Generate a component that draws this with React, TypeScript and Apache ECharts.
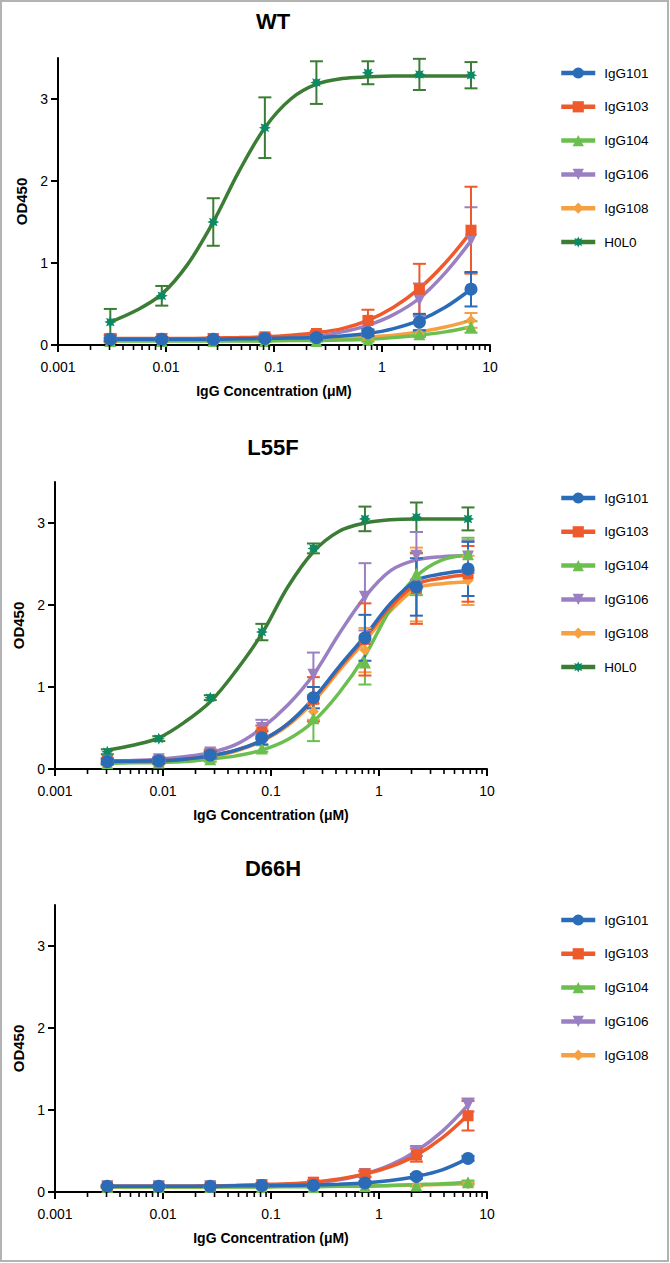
import React, { useEffect, useRef } from "react";
import * as echarts from "echarts";

// ---------- data ----------
const CONC = [0.00305, 0.00914, 0.0274, 0.0823, 0.247, 0.741, 2.22, 6.67];
const FIT_X = [0.00305, 0.00528, 0.00914, 0.0158, 0.0274, 0.0475, 0.0823, 0.143, 0.247, 0.428, 0.741, 1.28, 2.22, 3.85, 6.67];

const PANEL_TITLES = ["WT", "L55F", "D66H"];
const NAMES_ALL = ["IgG101", "IgG103", "IgG104", "IgG106", "IgG108", "H0L0"];
const NAMES_D66H = ["IgG101", "IgG103", "IgG104", "IgG106", "IgG108"];

const X_MAJOR = [0.001, 0.01, 0.1, 1, 10];
const X_LABELS = ["0.001", "0.01", "0.1", "1", "10"];
const X_MINOR = [
  0.002, 0.003, 0.004, 0.005, 0.006, 0.007, 0.008, 0.009,
  0.02, 0.03, 0.04, 0.05, 0.06, 0.07, 0.08, 0.09,
  0.2, 0.3, 0.4, 0.5, 0.6, 0.7, 0.8, 0.9,
  2, 3, 4, 5, 6, 7, 8, 9,
];
const Y_TICKS = [0, 1, 2, 3];
const X_NAME = "IgG Concentration (μM)";
const Y_NAME = "OD450";

// WT
const WT_MEAN: Record<string, number[]> = {
  IgG101: [0.07, 0.07, 0.07, 0.08, 0.09, 0.15, 0.28, 0.68],
  IgG103: [0.08, 0.08, 0.08, 0.1, 0.14, 0.3, 0.68, 1.4],
  IgG104: [0.05, 0.05, 0.05, 0.05, 0.05, 0.06, 0.13, 0.22],
  IgG106: [0.07, 0.07, 0.07, 0.08, 0.1, 0.23, 0.55, 1.28],
  IgG108: [0.06, 0.06, 0.06, 0.07, 0.07, 0.09, 0.14, 0.3],
  H0L0: [0.28, 0.6, 1.5, 2.65, 3.2, 3.32, 3.3, 3.29],
};
const WT_SEM: Record<string, number[]> = {
  IgG101: [0.02, 0.02, 0.02, 0.02, 0.03, 0.04, 0.1, 0.21],
  IgG103: [0.05, 0.02, 0.02, 0.03, 0.03, 0.13, 0.31, 0.53],
  IgG104: [0.01, 0.01, 0.01, 0.01, 0.01, 0.02, 0.03, 0.07],
  IgG106: [0.02, 0.02, 0.02, 0.02, 0.03, 0.05, 0.2, 0.4],
  IgG108: [0.02, 0.02, 0.02, 0.02, 0.02, 0.03, 0.04, 0.09],
  H0L0: [0.16, 0.12, 0.29, 0.37, 0.26, 0.14, 0.19, 0.16],
};
const WT_FIT: Record<string, number[]> = {
  IgG101: [0.07, 0.07, 0.07, 0.07, 0.07, 0.075, 0.08, 0.085, 0.09, 0.11, 0.14, 0.2, 0.3, 0.46, 0.68],
  IgG103: [0.08, 0.08, 0.08, 0.08, 0.085, 0.09, 0.1, 0.12, 0.15, 0.2, 0.3, 0.46, 0.69, 1.0, 1.38],
  IgG104: [0.05, 0.05, 0.05, 0.05, 0.05, 0.05, 0.05, 0.055, 0.055, 0.06, 0.07, 0.09, 0.12, 0.16, 0.22],
  IgG106: [0.07, 0.07, 0.07, 0.07, 0.07, 0.075, 0.08, 0.09, 0.11, 0.16, 0.24, 0.37, 0.57, 0.88, 1.27],
  IgG108: [0.06, 0.06, 0.06, 0.06, 0.06, 0.065, 0.07, 0.07, 0.08, 0.09, 0.1, 0.12, 0.16, 0.22, 0.3],
  H0L0: [0.28, 0.42, 0.62, 0.98, 1.5, 2.12, 2.65, 3.0, 3.18, 3.25, 3.27, 3.28, 3.28, 3.28, 3.28],
};

// L55F
const L55F_MEAN: Record<string, number[]> = {
  IgG101: [0.09, 0.1, 0.17, 0.38, 0.87, 1.6, 2.22, 2.44],
  IgG103: [0.1, 0.1, 0.18, 0.45, 0.85, 1.58, 2.2, 2.38],
  IgG104: [0.07, 0.08, 0.12, 0.25, 0.62, 1.3, 2.38, 2.62],
  IgG106: [0.1, 0.12, 0.2, 0.5, 1.15, 2.1, 2.6, 2.59],
  IgG108: [0.08, 0.09, 0.15, 0.42, 0.7, 1.45, 2.25, 2.3],
  H0L0: [0.21, 0.37, 0.87, 1.67, 2.69, 3.05, 3.07, 3.05],
};
const L55F_SEM: Record<string, number[]> = {
  IgG101: [0.03, 0.03, 0.04, 0.08, 0.13, 0.28, 0.35, 0.33],
  IgG103: [0.03, 0.03, 0.04, 0.08, 0.27, 0.44, 0.43, 0.34],
  IgG104: [0.02, 0.02, 0.03, 0.04, 0.28, 0.27, 0.26, 0.2],
  IgG106: [0.03, 0.03, 0.04, 0.1, 0.27, 0.41, 0.29, 0.2],
  IgG108: [0.02, 0.02, 0.03, 0.06, 0.1, 0.27, 0.45, 0.3],
  H0L0: [0.03, 0.03, 0.03, 0.1, 0.06, 0.15, 0.18, 0.14],
};
const L55F_FIT: Record<string, number[]> = {
  IgG101: [0.09, 0.095, 0.1, 0.12, 0.16, 0.23, 0.35, 0.55, 0.86, 1.25, 1.62, 2.02, 2.3, 2.38, 2.42],
  IgG103: [0.09, 0.095, 0.1, 0.12, 0.16, 0.23, 0.35, 0.55, 0.85, 1.23, 1.6, 1.98, 2.25, 2.33, 2.37],
  IgG104: [0.07, 0.075, 0.08, 0.09, 0.12, 0.16, 0.23, 0.36, 0.58, 0.93, 1.38, 1.95, 2.35, 2.55, 2.61],
  IgG106: [0.1, 0.105, 0.12, 0.15, 0.2, 0.3, 0.5, 0.78, 1.15, 1.65, 2.1, 2.42, 2.55, 2.59, 2.6],
  IgG108: [0.08, 0.085, 0.095, 0.11, 0.15, 0.22, 0.34, 0.53, 0.82, 1.2, 1.56, 1.93, 2.2, 2.26, 2.28],
  H0L0: [0.23, 0.29, 0.38, 0.57, 0.82, 1.2, 1.65, 2.22, 2.65, 2.9, 3.0, 3.04, 3.05, 3.05, 3.05],
};

// D66H
const D66H_MEAN: Record<string, number[]> = {
  IgG101: [0.07, 0.07, 0.07, 0.08, 0.08, 0.11, 0.19, 0.41],
  IgG103: [0.07, 0.07, 0.07, 0.09, 0.12, 0.22, 0.45, 0.93],
  IgG104: [0.06, 0.06, 0.06, 0.06, 0.06, 0.07, 0.08, 0.12],
  IgG106: [0.07, 0.07, 0.07, 0.08, 0.11, 0.22, 0.5, 1.06],
  IgG108: [0.06, 0.06, 0.06, 0.07, 0.07, 0.07, 0.08, 0.1],
};
const D66H_SEM: Record<string, number[]> = {
  IgG101: [0.01, 0.01, 0.01, 0.01, 0.01, 0.02, 0.03, 0.03],
  IgG103: [0.01, 0.01, 0.01, 0.02, 0.02, 0.04, 0.08, 0.18],
  IgG104: [0.01, 0.01, 0.01, 0.01, 0.01, 0.01, 0.01, 0.02],
  IgG106: [0.01, 0.01, 0.01, 0.01, 0.02, 0.03, 0.06, 0.08],
  IgG108: [0.01, 0.01, 0.01, 0.01, 0.01, 0.01, 0.01, 0.02],
};
const D66H_FIT: Record<string, number[]> = {
  IgG101: [0.07, 0.07, 0.07, 0.07, 0.07, 0.075, 0.075, 0.08, 0.085, 0.095, 0.11, 0.14, 0.19, 0.27, 0.41],
  IgG103: [0.07, 0.07, 0.07, 0.07, 0.075, 0.08, 0.09, 0.1, 0.12, 0.16, 0.22, 0.31, 0.45, 0.66, 0.94],
  IgG104: [0.06, 0.06, 0.06, 0.06, 0.06, 0.06, 0.06, 0.065, 0.065, 0.07, 0.07, 0.08, 0.09, 0.1, 0.12],
  IgG106: [0.07, 0.07, 0.07, 0.07, 0.075, 0.08, 0.085, 0.095, 0.11, 0.15, 0.22, 0.33, 0.5, 0.74, 1.06],
  IgG108: [0.06, 0.06, 0.06, 0.06, 0.06, 0.065, 0.065, 0.07, 0.07, 0.07, 0.075, 0.08, 0.085, 0.09, 0.1],
};

// ---------- styles / layout ----------
const FONT = "'Liberation Sans', Arial, Helvetica, sans-serif";
const STAR =
  "path://M5,0L6.07,2.41L8.54,1.46L7.59,3.93L10,5L7.59,6.07L8.54,8.54L6.07,7.59L5,10L3.93,7.59L1.46,8.54L2.41,6.07L0,5L2.41,3.93L1.46,1.46L3.93,2.41Z";
const STYLE: Record<string, { line: string; marker: string; symbol: string; size: number }> = {
  IgG101: { line: "#2b6cb8", marker: "#2b6cb8", symbol: "circle", size: 13 },
  IgG103: { line: "#ee5a2b", marker: "#ee5a2b", symbol: "rect", size: 11 },
  IgG104: { line: "#6bbf4e", marker: "#6bbf4e", symbol: "triangle", size: 12 },
  IgG106: { line: "#9a7fc2", marker: "#9a7fc2", symbol: "path://M0,0L10,0L5,9Z", size: 12 },
  IgG108: { line: "#f5a142", marker: "#f5a142", symbol: "diamond", size: 11 },
  H0L0: { line: "#3b7d34", marker: "#0e8a62", symbol: STAR, size: 12 },
};

const PANELS = [
  { title: PANEL_TITLES[0], names: NAMES_ALL, mean: WT_MEAN, sem: WT_SEM, fit: WT_FIT },
  { title: PANEL_TITLES[1], names: NAMES_ALL, mean: L55F_MEAN, sem: L55F_SEM, fit: L55F_FIT },
  { title: PANEL_TITLES[2], names: NAMES_D66H, mean: D66H_MEAN, sem: D66H_SEM, fit: D66H_FIT },
];
const LAYOUT = [
  { left: 58, top: 58, titleY: 21, legendTop: 61 },
  { left: 55, top: 482, titleY: 447, legendTop: 486 },
  { left: 55, top: 905, titleY: 868, legendTop: 908 },
];
const GRID_W = 432;
const GRID_H = 287;

function buildOption() {
  const grid: any[] = [];
  const xAxis: any[] = [];
  const yAxis: any[] = [];
  const legend: any[] = [];
  const series: any[] = [];
  const graphic: any[] = [];

  graphic.push({
    type: "rect",
    shape: { x: 1, y: 1, width: 667, height: 1260 },
    style: { fill: "none", stroke: "#b3b3b3", lineWidth: 2 },
    silent: true,
  });

  PANELS.forEach((p, i) => {
    const L = LAYOUT[i];
    grid.push({ left: L.left, top: L.top, width: GRID_W, height: GRID_H, containLabel: false });

    xAxis.push({
      type: "log",
      logBase: 10,
      min: 0.001,
      max: 10,
      gridIndex: i,
      position: "bottom",
      name: X_NAME,
      nameLocation: "middle",
      nameGap: 39,
      nameTextStyle: { fontFamily: FONT, fontWeight: "bold", fontSize: 14, color: "#000" },
      axisLine: { show: true, onZero: false, lineStyle: { color: "#000", width: 2 } },
      axisTick: { show: true, length: 7, customValues: X_MAJOR, lineStyle: { color: "#000", width: 2 } },
      axisLabel: {
        customValues: X_MAJOR,
        margin: 15,
        fontFamily: FONT,
        fontSize: 14,
        color: "#000",
        formatter: (v: number) => {
          const k = X_MAJOR.findIndex((t) => Math.abs(Math.log10(t) - Math.log10(v)) < 1e-6);
          return k >= 0 ? X_LABELS[k] : "";
        },
      },
      splitLine: { show: false },
    });

    yAxis.push({
      type: "value",
      gridIndex: i,
      min: 0,
      max: 3.5,
      name: Y_NAME,
      nameLocation: "middle",
      nameRotate: 90,
      nameGap: 18,
      nameTextStyle: { fontFamily: FONT, fontWeight: "bold", fontSize: 15, color: "#000" },
      axisLine: { show: true, onZero: false, lineStyle: { color: "#000", width: 2 } },
      axisTick: { show: true, length: 7, customValues: Y_TICKS, lineStyle: { color: "#000", width: 2 } },
      axisLabel: { customValues: Y_TICKS, margin: 10, fontFamily: FONT, fontSize: 14, color: "#000" },
      splitLine: { show: false },
    });

    legend.push({
      data: p.names,
      orient: "vertical",
      left: 554,
      top: L.legendTop,
      itemWidth: 34,
      itemHeight: 14,
      itemGap: 19.8,
      selectedMode: false,
      lineStyle: { width: 4.5 },
      textStyle: { fontFamily: FONT, fontSize: 13.5, color: "#000", lineHeight: 14, padding: [0, 0, 0, 4] },
    });

    graphic.push({
      type: "text",
      x: 273,
      y: L.titleY,
      style: {
        text: p.title,
        fill: "#000",
        font: `bold 22px ${FONT}`,
        textAlign: "center",
        textVerticalAlign: "middle",
      },
      silent: true,
    });

    // minor ticks of the log axis (2..9 in every decade)
    series.push({
      type: "custom",
      name: "minor-ticks",
      xAxisIndex: i,
      yAxisIndex: i,
      coordinateSystem: "cartesian2d",
      encode: { x: 0, y: 1 },
      data: X_MINOR.map((v) => [v, 0]),
      clip: false,
      silent: true,
      z: 5,
      renderItem: (params: any, api: any) => {
        const pt = api.coord([api.value(0), 0]);
        return {
          type: "line",
          shape: { x1: pt[0], y1: pt[1], x2: pt[0], y2: pt[1] + 5 },
          style: { stroke: "#000", lineWidth: 1.6 },
        };
      },
    });

    const order = [...p.names].reverse();
    order.forEach((name) => {
      const st = STYLE[name];
      series.push({
        type: "line",
        name,
        xAxisIndex: i,
        yAxisIndex: i,
        data: FIT_X.map((x, k) => [x, p.fit[name][k]]),
        showSymbol: false,
        symbol: st.symbol,
        symbolSize: st.size,
        smooth: 0.35,
        lineStyle: { color: st.line, width: 3.5 },
        itemStyle: { color: st.marker },
        z: 2,
        silent: true,
      });
      series.push({
        type: "custom",
        name,
        xAxisIndex: i,
        yAxisIndex: i,
        coordinateSystem: "cartesian2d",
        encode: { x: 0, y: 1 },
        data: CONC.map((x, k) => [x, p.mean[name][k], p.sem[name][k]]),
        z: 3,
        silent: true,
        clip: false,
        renderItem: (params: any, api: any) => {
          const x = api.value(0);
          const m = api.value(1);
          const e = api.value(2);
          const top = api.coord([x, m + e]);
          const bot = api.coord([x, m - e]);
          const hw = 6.5;
          const style = { stroke: st.line, lineWidth: 2, fill: "none" };
          return {
            type: "group",
            children: [
              { type: "line", shape: { x1: top[0], y1: top[1], x2: bot[0], y2: bot[1] }, style },
              { type: "line", shape: { x1: top[0] - hw, y1: top[1], x2: top[0] + hw, y2: top[1] }, style },
              { type: "line", shape: { x1: bot[0] - hw, y1: bot[1], x2: bot[0] + hw, y2: bot[1] }, style },
            ],
          };
        },
      });
      series.push({
        type: "scatter",
        name,
        xAxisIndex: i,
        yAxisIndex: i,
        data: CONC.map((x, k) => [x, p.mean[name][k]]),
        symbol: st.symbol,
        symbolSize: st.size,
        itemStyle: { color: st.marker, opacity: 1 },
        z: 4,
        silent: true,
      });
    });
  });

  return {
    animation: false,
    backgroundColor: "#ffffff",
    textStyle: { fontFamily: FONT },
    grid,
    xAxis,
    yAxis,
    legend,
    series,
    graphic,
  };
}

export default function App() {
  const ref = useRef<HTMLDivElement>(null);
  useEffect(() => {
    document.body.style.margin = "0";
    if (!ref.current) return;
    const chart = echarts.init(ref.current, undefined, { renderer: "svg" });
    chart.setOption(buildOption() as any);
    return () => chart.dispose();
  }, []);
  return <div ref={ref} style={{ width: 670, height: 1263 }} />;
}
